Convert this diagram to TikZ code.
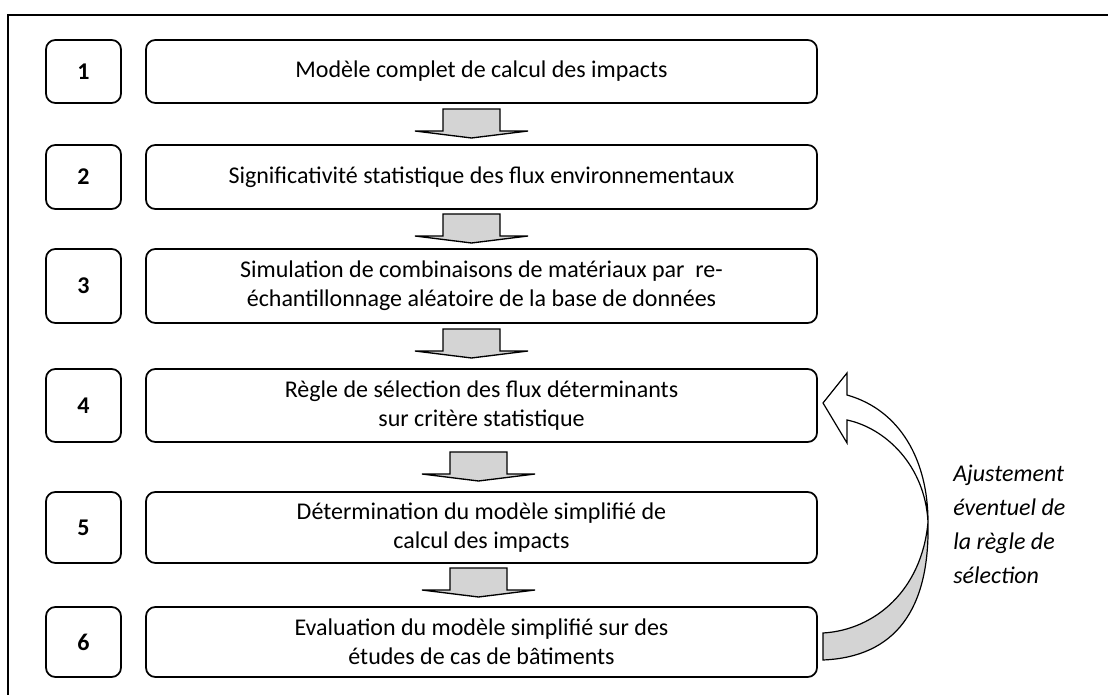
\documentclass[tikz,border=0pt]{standalone}
\usepackage{fontspec}
\setmainfont{Carlito}
\definecolor{agray}{RGB}{212,212,212}
\begin{document}
\begin{tikzpicture}[x=0.75pt,y=-0.75pt,
  numbox/.style={draw, line width=1.3pt, rounded corners=7pt, minimum width=56.25pt, inner sep=0pt, font=\fontsize{18}{21}\selectfont\bfseries},
  stepbox/.style={draw, line width=1.3pt, rounded corners=7pt, minimum width=503.25pt, inner sep=0pt, align=center, font=\fontsize{18}{21.5}\selectfont},
  blockarrow/.style={draw, line width=1pt, fill=agray, line join=miter},
  curvearrow/.style={draw, line width=0.9pt, line join=miter},
  barrow/.pic={\draw[blockarrow] (-28.5,0) -- (-28.5,22) -- (-56.5,22) -- (0,29) -- (56.5,22) -- (28.5,22) -- (28.5,0) -- cycle;},
  note/.style={align=left, inner sep=0pt, font=\fontsize{18}{25.5}\selectfont\itshape}
]
\useasboundingbox (0,0) rectangle (1108,695);
\clip (0,0) rectangle (1108,695);
% outer frame
\draw[line width=1.1pt] (8,720) -- (8,15) -- (1130,15);

% number boxes
\node[numbox, minimum height=47.25pt] (n1) at (83.5,71.5) {1};
\node[numbox, minimum height=48pt]    (n2) at (83.5,177) {2};
\node[numbox, minimum height=55.5pt]  (n3) at (83.5,286) {3};
\node[numbox, minimum height=54.75pt] (n4) at (83.5,405.5) {4};
\node[numbox, minimum height=53.25pt] (n5) at (83.5,527.5) {5};
\node[numbox, minimum height=52.5pt]  (n6) at (83.5,642) {6};

% step boxes
\node[stepbox, minimum height=47.25pt] (s1) at (481.5,71.5) {Modèle complet de calcul des impacts};
\node[stepbox, minimum height=48pt]    (s2) at (481.5,177) {Significativité statistique des flux environnementaux};
\node[stepbox, minimum height=55.5pt]  (s3) at (481.5,286) {Simulation de combinaisons de matériaux par\ \ re-\\échantillonnage aléatoire de la base de données};
\node[stepbox, minimum height=54.75pt] (s4) at (481.5,405.5) {Règle de sélection des flux déterminants\\sur critère statistique};
\node[stepbox, minimum height=53.25pt] (s5) at (481.5,527.5) {Détermination du modèle simplifié de\\calcul des impacts};
\node[stepbox, minimum height=52.5pt]  (s6) at (481.5,642) {Evaluation du modèle simplifié sur des\\études de cas de bâtiments};

% block arrows
\pic at (471.5,109) {barrow};
\pic at (471.5,214) {barrow};
\pic at (471.5,329) {barrow};
\pic at (478.5,452) {barrow};
\pic at (478.5,568) {barrow};

% curved feedback arrow
\draw[curvearrow, fill=agray] (823,633) .. controls (875,630) and (922,590) .. (928,522)
   .. controls (930,610) and (895,657) .. (823,660) -- cycle;
\draw[curvearrow, fill=white] (928,522) .. controls (928,460) and (900,410) .. (847,395)
   -- (847,373) -- (823,403) -- (847,443) -- (847,420)
   .. controls (885,428) and (925,465) .. (928,522) -- cycle;

% note
\node[note, anchor=west] (note) at (953,524) {Ajustement\\éventuel de\\la règle de\\sélection};
\end{tikzpicture}
\end{document}
